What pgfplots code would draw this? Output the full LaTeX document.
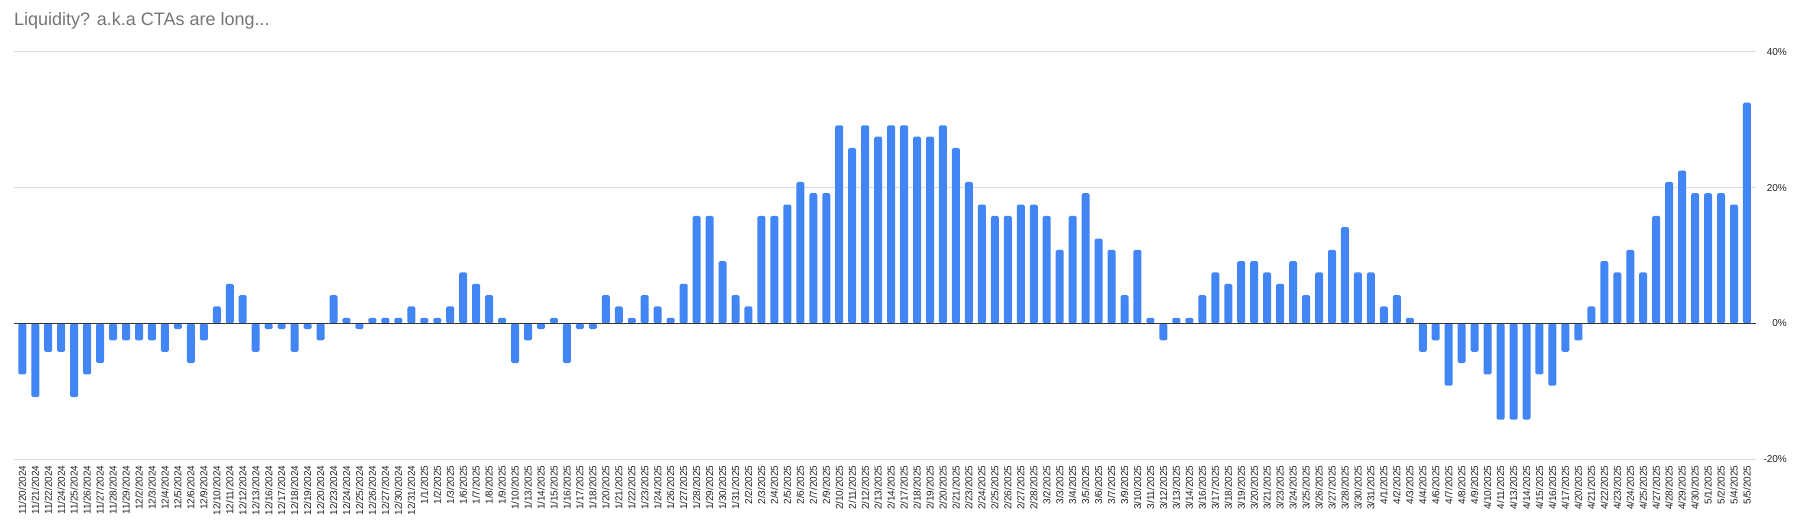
\documentclass[border=0pt]{standalone}
\usepackage{fontspec}
\setmainfont{Liberation Sans}
\usepackage{pgfplots}
\usepackage{pgfplotstable}
\pgfplotsset{compat=1.18}

\definecolor{barblue}{HTML}{4285F4}
\definecolor{gridgray}{HTML}{DDDDDD}
\definecolor{zerogray}{HTML}{333333}
\definecolor{titlegray}{HTML}{757575}
\definecolor{labelblack}{HTML}{222222}

% CTA positioning, % of max
\pgfplotstableread{
idx date val
0 11/20/2024 -7.50
1 11/21/2024 -10.83
2 11/22/2024 -4.17
3 11/24/2024 -4.17
4 11/25/2024 -10.83
5 11/26/2024 -7.50
6 11/27/2024 -5.83
7 11/28/2024 -2.50
8 11/29/2024 -2.50
9 12/2/2024 -2.50
10 12/3/2024 -2.50
11 12/4/2024 -4.17
12 12/5/2024 -0.83
13 12/6/2024 -5.83
14 12/9/2024 -2.50
15 12/10/2024 2.50
16 12/11/2024 5.83
17 12/12/2024 4.17
18 12/13/2024 -4.17
19 12/16/2024 -0.83
20 12/17/2024 -0.83
21 12/18/2024 -4.17
22 12/19/2024 -0.83
23 12/20/2024 -2.50
24 12/23/2024 4.17
25 12/24/2024 0.83
26 12/25/2024 -0.83
27 12/26/2024 0.83
28 12/27/2024 0.83
29 12/30/2024 0.83
30 12/31/2024 2.50
31 1/1/2025 0.83
32 1/2/2025 0.83
33 1/3/2025 2.50
34 1/6/2025 7.50
35 1/7/2025 5.83
36 1/8/2025 4.17
37 1/9/2025 0.83
38 1/10/2025 -5.83
39 1/13/2025 -2.50
40 1/14/2025 -0.83
41 1/15/2025 0.83
42 1/16/2025 -5.83
43 1/17/2025 -0.83
44 1/18/2025 -0.83
45 1/20/2025 4.17
46 1/21/2025 2.50
47 1/22/2025 0.83
48 1/23/2025 4.17
49 1/24/2025 2.50
50 1/26/2025 0.83
51 1/27/2025 5.83
52 1/28/2025 15.83
53 1/29/2025 15.83
54 1/30/2025 9.17
55 1/31/2025 4.17
56 2/2/2025 2.50
57 2/3/2025 15.83
58 2/4/2025 15.83
59 2/5/2025 17.50
60 2/6/2025 20.83
61 2/7/2025 19.17
62 2/9/2025 19.17
63 2/10/2025 29.17
64 2/11/2025 25.83
65 2/12/2025 29.17
66 2/13/2025 27.50
67 2/14/2025 29.17
68 2/17/2025 29.17
69 2/18/2025 27.50
70 2/19/2025 27.50
71 2/20/2025 29.17
72 2/21/2025 25.83
73 2/23/2025 20.83
74 2/24/2025 17.50
75 2/25/2025 15.83
76 2/26/2025 15.83
77 2/27/2025 17.50
78 2/28/2025 17.50
79 3/2/2025 15.83
80 3/3/2025 10.83
81 3/4/2025 15.83
82 3/5/2025 19.17
83 3/6/2025 12.50
84 3/7/2025 10.83
85 3/9/2025 4.17
86 3/10/2025 10.83
87 3/11/2025 0.83
88 3/12/2025 -2.50
89 3/13/2025 0.83
90 3/14/2025 0.83
91 3/16/2025 4.17
92 3/17/2025 7.50
93 3/18/2025 5.83
94 3/19/2025 9.17
95 3/20/2025 9.17
96 3/21/2025 7.50
97 3/23/2025 5.83
98 3/24/2025 9.17
99 3/25/2025 4.17
100 3/26/2025 7.50
101 3/27/2025 10.83
102 3/28/2025 14.17
103 3/30/2025 7.50
104 3/31/2025 7.50
105 4/1/2025 2.50
106 4/2/2025 4.17
107 4/3/2025 0.83
108 4/4/2025 -4.17
109 4/6/2025 -2.50
110 4/7/2025 -9.17
111 4/8/2025 -5.83
112 4/9/2025 -4.17
113 4/10/2025 -7.50
114 4/11/2025 -14.17
115 4/13/2025 -14.17
116 4/14/2025 -14.17
117 4/15/2025 -7.50
118 4/16/2025 -9.17
119 4/17/2025 -4.17
120 4/20/2025 -2.50
121 4/21/2025 2.50
122 4/22/2025 9.17
123 4/23/2025 7.50
124 4/24/2025 10.83
125 4/25/2025 7.50
126 4/27/2025 15.83
127 4/28/2025 20.83
128 4/29/2025 22.50
129 4/30/2025 19.17
130 5/1/2025 19.17
131 5/2/2025 19.17
132 5/4/2025 17.50
133 5/5/2025 32.50
}\ctadata

\begin{document}
\begin{tikzpicture}[x=1bp,y=1bp]
\path[use as bounding box] (0,0) rectangle (1793,-523);
\node[anchor=base west, inner sep=0, text=titlegray,
      font=\fontsize{18bp}{21bp}\selectfont] at (14,-26) {Liquidity? a.k.a CTAs are long...};
\begin{axis}[
    at={(14bp,-459.3bp)}, anchor=south west,
    scale only axis, width=1742bp, height=407.6bp,
    ybar, bar width=8bp,
    xmin=-0.64, xmax=133.7,
    ymin=-20, ymax=40,
    axis line style={draw=none},
    major tick length=0pt,
    xtick=data,
    xticklabels from table={\ctadata}{date},
    xticklabel style={yshift=-6bp, rotate=90, anchor=east, inner sep=0pt,
        text=labelblack, font=\fontsize{10bp}{12bp}\selectfont},
    ytick={-20,0,20,40},
    yticklabels={-20\%,0\%,20\%,40\%},
    yticklabel pos=right,
    yticklabel style={anchor=east, inner sep=0pt, xshift=31bp,
        text=labelblack, font=\fontsize{10bp}{12bp}\selectfont},
    ymajorgrids,
    major grid style={draw=gridgray, line width=1bp},
]
\addplot[fill=barblue, draw=none, rounded corners=1.5bp] table[x=idx, y=val] {\ctadata};
\draw[zerogray, line width=1.3bp] (axis cs:-0.64,0) -- (axis cs:133.7,0);
\end{axis}
\end{tikzpicture}
\end{document}
